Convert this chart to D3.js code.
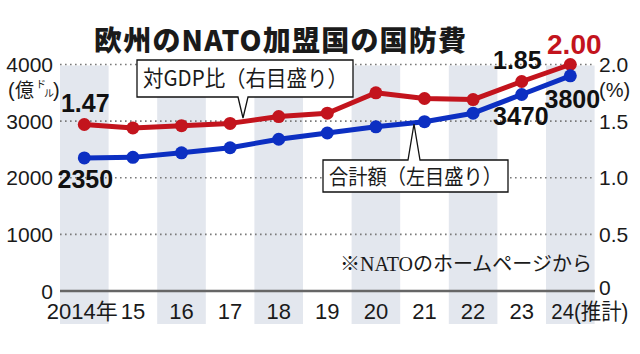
<!DOCTYPE html>
<html>
<head>
<meta charset="utf-8">
<script src="https://cdn.jsdelivr.net/npm/d3@7"></script>
<style>
  body { margin: 0; background: #fff; }
  svg { display: block; }
  text { font-family: "Liberation Sans", Arial, "Noto Sans CJK JP", sans-serif; fill: #1a1a1a; }
  .jp { font-family: "Noto Sans CJK JP", sans-serif; }
</style>
</head>
<body>
<div id="chart"></div>
<script>
// chart values
const years = [2014, 2015, 2016, 2017, 2018, 2019, 2020, 2021, 2022, 2023, 2024];
const yearLabels = ['2014年', '15', '16', '17', '18', '19', '20', '21', '22', '23', '24'];
const totalSpend = [2350, 2360, 2440, 2530, 2680, 2790, 2900, 2990, 3140, 3470, 3800]; // 億ドル
const gdpRatio = [1.47, 1.44, 1.46, 1.48, 1.54, 1.57, 1.75, 1.70, 1.69, 1.85, 2.00];  // %
const leftTicks = [0, 1000, 2000, 3000, 4000];
const rightTicks = [0, 0.5, 1.0, 1.5, 2.0];
const rightTickLabels = ['0', '0.5', '1.0', '1.5', '2.0'];

const width = 640, height = 354;
const red = '#c3141d', blue = '#0c2fc2';

const svg = d3.select('#chart').append('svg')
  .attr('width', width)
  .attr('height', height);

const x = d3.scaleBand().domain(years).range([60, 594.6]).padding(0);
const yL = d3.scaleLinear().domain([0, 4000]).range([291, 64.5]);
const yR = d3.scaleLinear().domain([0, 2]).range([291, 64.5]);
const cx = d => x(d) + x.bandwidth() / 2;

// alternating shaded columns
svg.append('g').selectAll('rect')
  .data(years.filter((d, i) => i % 2 === 0))
  .join('rect')
  .attr('x', d => x(d))
  .attr('y', yL(4000) + 1)
  .attr('width', x.bandwidth())
  .attr('height', 324 - yL(4000) - 1)
  .attr('fill', '#e3e7ee');

// dotted gridlines
svg.append('g').selectAll('line')
  .data(leftTicks.filter(d => d > 0))
  .join('line')
  .attr('x1', 60).attr('x2', 595)
  .attr('y1', d => yL(d)).attr('y2', d => yL(d))
  .attr('stroke', '#7a7a7a')
  .attr('stroke-width', 1.6)
  .attr('stroke-dasharray', '1.6,3.4');

// base axis
svg.append('line')
  .attr('x1', 60).attr('x2', 595)
  .attr('y1', yL(0)).attr('y2', yL(0))
  .attr('stroke', '#666').attr('stroke-width', 2.5);

// left tick labels
svg.append('g').selectAll('text')
  .data(leftTicks)
  .join('text')
  .attr('x', 53)
  .attr('y', d => yL(d))
  .attr('dy', '0.36em')
  .attr('text-anchor', 'end')
  .attr('font-size', 21)
  .text(d => d);

// right tick labels
svg.append('g').selectAll('text')
  .data(rightTicks)
  .join('text')
  .attr('x', 599)
  .attr('y', d => yR(d))
  .attr('dy', d => d === 0 ? '0.2em' : '0.36em')
  .attr('font-size', 21)
  .text((d, i) => rightTickLabels[i]);

// unit labels
const unitL = svg.append('g');
unitL.append('text').attr('x', 8).attr('y', 97).attr('font-size', 20).text('(');
unitL.append('text').attr('class', 'jp').attr('x', 15).attr('y', 97).attr('font-size', 19).text('億');
unitL.append('text').attr('class', 'jp').attr('x', 36).attr('y', 88).attr('font-size', 10).text('ド');
unitL.append('text').attr('class', 'jp').attr('x', 44).attr('y', 97).attr('font-size', 10).text('ル');
unitL.append('text').attr('x', 53).attr('y', 97).attr('font-size', 20).text(')');

svg.append('text').attr('x', 599).attr('y', 97).attr('font-size', 20).text('(%)');

// x labels
const last = years.length - 1;
svg.append('g').selectAll('text')
  .data(years)
  .join('text')
  .attr('x', (d, i) => i === last ? cx(d) - 19 : cx(d) - (i === 0 ? 2 : 0))
  .attr('y', 319)
  .attr('text-anchor', (d, i) => i === last ? 'start' : 'middle')
  .attr('font-size', 22)
  .each(function (d, i) {
    const t = d3.select(this);
    if (i === last) {
      t.attr('textLength', 77).attr('lengthAdjust', 'spacingAndGlyphs')
        .text(yearLabels[i] + '(推計)');
    } else {
      t.text(yearLabels[i]);
    }
  });

// lines
const lineL = d3.line().x((d, i) => cx(years[i])).y(d => yL(d));
const lineR = d3.line().x((d, i) => cx(years[i])).y(d => yR(d));

svg.append('path').datum(gdpRatio)
  .attr('d', lineR).attr('fill', 'none')
  .attr('stroke', red).attr('stroke-width', 5).attr('stroke-linejoin', 'round');
svg.append('g').selectAll('circle')
  .data(gdpRatio).join('circle')
  .attr('cx', (d, i) => cx(years[i])).attr('cy', d => yR(d))
  .attr('r', 6.5).attr('fill', red);

svg.append('path').datum(totalSpend)
  .attr('d', lineL).attr('fill', 'none')
  .attr('stroke', blue).attr('stroke-width', 5).attr('stroke-linejoin', 'round');
svg.append('g').selectAll('circle')
  .data(totalSpend).join('circle')
  .attr('cx', (d, i) => cx(years[i])).attr('cy', d => yL(d))
  .attr('r', 6.5).attr('fill', blue);

// value labels
const valueLabels = [
  { i: 0, v: gdpRatio[0], s: yR, txt: '1.47', dx: 1, dy: -13, anchor: 'middle', color: '#111', size: 25 },
  { i: 0, v: totalSpend[0], s: yL, txt: '2350', dx: 1, dy: 30, anchor: 'middle', color: '#111', size: 25 },
  { i: 9, v: totalSpend[9], s: yL, txt: '3470', dx: 27, dy: 30, anchor: 'end', color: '#111', size: 25 },
  { i: 10, v: totalSpend[10], s: yL, txt: '3800', dx: 2, dy: 32, anchor: 'middle', color: '#111', size: 25 },
  { i: 9, v: gdpRatio[9], s: yR, txt: '1.85', dx: 20, dy: -12, anchor: 'end', color: '#111', size: 25 },
  { i: 10, v: gdpRatio[10], s: yR, txt: '2.00', dx: 4, dy: -11, anchor: 'middle', color: red, size: 28 }
];
svg.append('g').selectAll('text')
  .data(valueLabels)
  .join('text')
  .attr('x', d => cx(years[d.i]) + d.dx)
  .attr('y', d => d.s(d.v) + d.dy)
  .attr('text-anchor', d => d.anchor)
  .attr('font-size', d => d.size)
  .attr('font-weight', 'bold')
  .style('fill', d => d.color)
  .text(d => d.txt);

// callouts: box [x0,y0,x1,y1], tip [p1,p2,ax,ay]; pointer on the edge nearest the tip
function callout(box, tip, label, size, len) {
  const [x0, y0, x1, y1] = box;
  const [p1, p2, ax, ay] = tip;
  let path;
  if (ay > y1) {
    path = `M${x0},${y0}H${x1}V${y1}H${p2}L${ax},${ay}L${p1},${y1}H${x0}Z`;
  } else {
    path = `M${x0},${y0}H${p1}L${ax},${ay}L${p2},${y0}H${x1}V${y1}H${x0}Z`;
  }
  svg.append('path').attr('d', path)
    .attr('fill', '#fff').attr('stroke', '#111').attr('stroke-width', 1.3);
  svg.append('text').attr('class', 'jp')
    .attr('x', x0 + 6).attr('y', (y0 + y1) / 2)
    .attr('dy', '0.36em')
    .attr('font-size', size)
    .attr('textLength', len).attr('lengthAdjust', 'spacingAndGlyphs')
    .text(label);
}
callout([137, 60, 353, 97], [238, 248, 243, 118], '対GDP比（右目盛り）', 22, 205);
callout([323, 160, 508, 192], [408, 420, 414, 124], '合計額（左目盛り）', 21, 173);

// title
svg.append('text').attr('class', 'jp')
  .attr('x', 94).attr('y', 51)
  .attr('font-size', 28).attr('font-weight', 900)
  .attr('textLength', 372).attr('lengthAdjust', 'spacing')
  .text('欧州のNATO加盟国の国防費');

// source note
svg.append('text')
  .attr('x', 340).attr('y', 271)
  .attr('font-size', 20)
  .style('font-family', '"Liberation Serif", "Noto Sans CJK JP", serif')
  .text('※NATOのホームページから');
</script>
</body>
</html>
